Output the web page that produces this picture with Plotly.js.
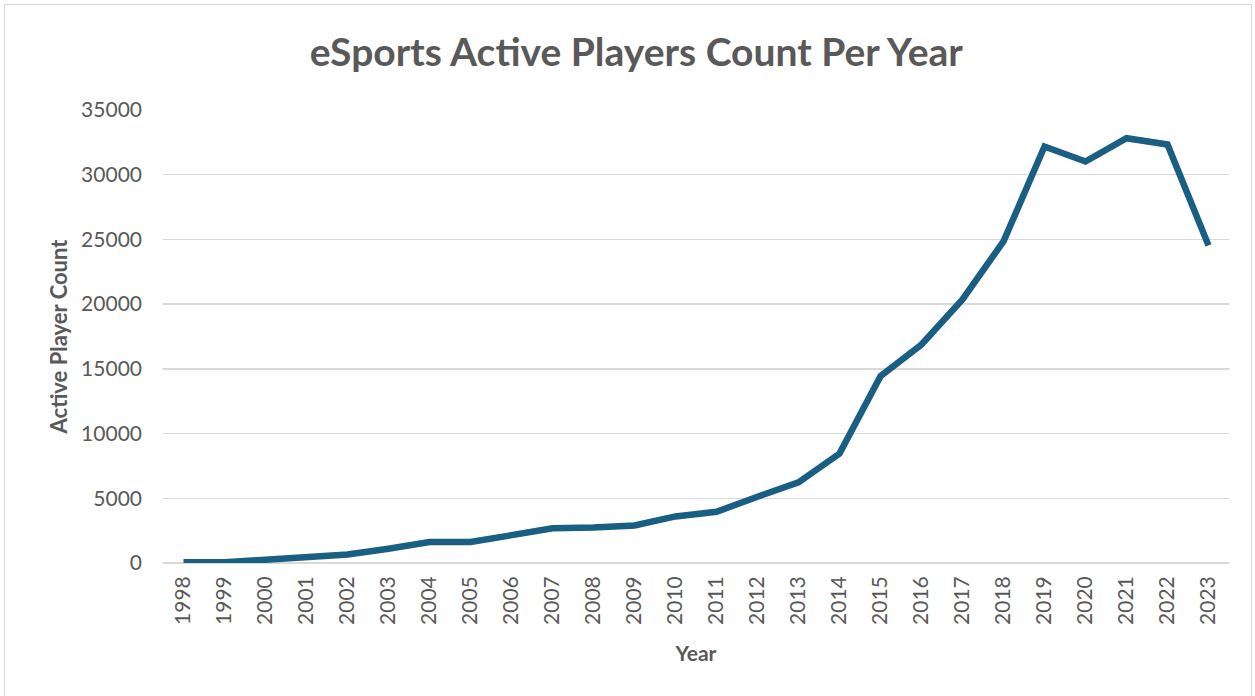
<!DOCTYPE html>
<html>
<head>
<meta charset="utf-8">
<script src="https://cdn.plot.ly/plotly-3.0.1.min.js"></script>
<style>
html,body{margin:0;padding:0;background:#fff;overflow:hidden;}
#frame{position:absolute;left:4px;top:4px;width:1248px;height:700px;border:1px solid #d9d9d9;box-sizing:border-box;}
#chart{position:absolute;left:0;top:0;width:1255px;height:696px;}
</style>
</head>
<body>
<div id="frame"></div>
<div id="chart"></div>
<script>
const years = ['1998','1999','2000','2001','2002','2003','2004','2005','2006','2007','2008','2009','2010','2011','2012','2013','2014','2015','2016','2017','2018','2019','2020','2021','2022','2023'];
const activePlayers = [50, 50, 250, 460, 650, 1100, 1620, 1620, 2150, 2680, 2750, 2900, 3600, 3960, 5120, 6230, 8450, 14430, 16880, 20370, 24850, 32180, 31020, 32820, 32340, 24540];
const yTicks = [0, 5000, 10000, 15000, 20000, 25000, 30000, 35000];

const textColor = '#595959';
const font = 'Lato, "Open Sans", sans-serif';

const trace = {
  x: years,
  y: activePlayers,
  type: 'scatter',
  mode: 'lines',
  line: {color: '#195e83', width: 6.5},
  hoverinfo: 'x+y'
};

const layout = {
  width: 1255,
  height: 696,
  paper_bgcolor: 'rgba(0,0,0,0)',
  plot_bgcolor: 'rgba(0,0,0,0)',
  margin: {l: 163, r: 26, t: 110, b: 133},
  showlegend: false,
  title: {
    text: '<b>eSports Active Players Count Per Year</b>',
    font: {family: font, size: 39, color: textColor},
    x: 0.507, xanchor: 'center',
    y: 0.925, yanchor: 'middle'
  },
  xaxis: {
    type: 'category',
    range: [-0.5, 25.5],
    tickangle: -90,
    tickfont: {family: font, size: 21, color: textColor},
    showgrid: false,
    showline: false,
    zeroline: false,
    ticks: '',
    ticklen: 0,
    ticklabelstandoff: 8,
    title: {text: '<b>Year</b>', font: {family: font, size: 21, color: textColor}, standoff: 22}
  },
  yaxis: {
    range: [0, 35000],
    tickvals: yTicks,
    ticktext: yTicks.map(String),
    tickfont: {family: font, size: 21, color: textColor},
    showgrid: true,
    gridcolor: '#d9d9d9',
    gridwidth: 1.5,
    zeroline: true,
    zerolinecolor: '#d9d9d9',
    zerolinewidth: 1.5,
    showline: false,
    ticks: '',
    ticklabelstandoff: 20,
    title: {text: '<b>Active Player Count</b>', font: {family: font, size: 22, color: textColor}, standoff: 7}
  }
};

Plotly.newPlot('chart', [trace], layout, {displayModeBar: false, staticPlot: true});
</script>
</body>
</html>
